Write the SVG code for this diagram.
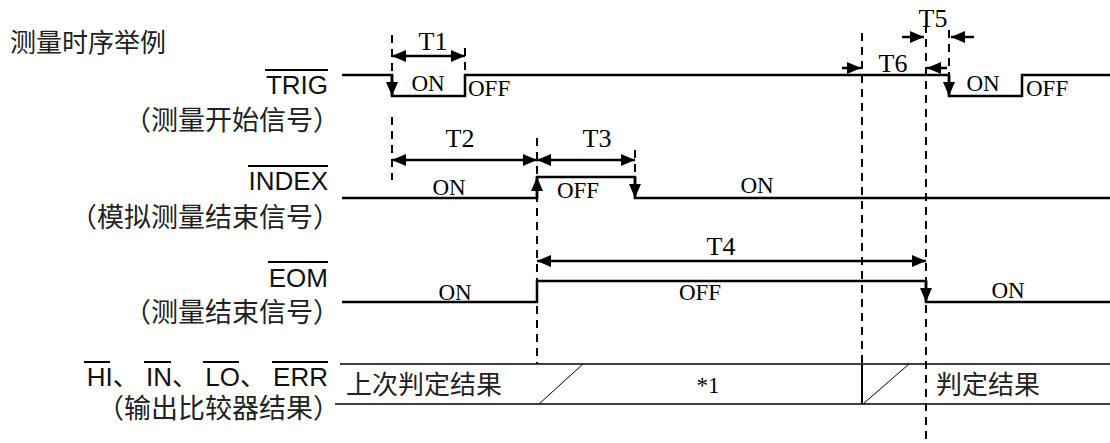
<svg xmlns="http://www.w3.org/2000/svg" width="1110" height="443" viewBox="0 0 1110 443">
<style>
.bg{fill:#fff}
.sig{fill:none;stroke:#000;stroke-width:2.5}
.dim{fill:none;stroke:#000;stroke-width:2.5}
.guide{fill:none;stroke:#000;stroke-width:2;stroke-dasharray:8,6}
.row{fill:none;stroke:#000;stroke-width:1.6}
.slash{fill:none;stroke:#000;stroke-width:1}
.ovl{stroke:#000;stroke-width:2}
.cn{font-family:"Noto Sans CJK SC","Noto Sans",sans-serif;fill:#222}
.en{font-family:"Liberation Sans",Arial,"Noto Sans CJK SC",sans-serif;font-size:26px;fill:#111}
.tm{font-family:"Liberation Serif","Times New Roman",serif;font-size:23px;fill:#000}
.tl{font-family:"Liberation Serif","Times New Roman",serif;font-size:26px;fill:#000}
</style>
<defs>
<marker id="ah" markerUnits="userSpaceOnUse" markerWidth="14" markerHeight="12" viewBox="0 0 14 12" refX="14" refY="6" orient="auto-start-reverse">
<path d="M0,0 L14,6 L0,12 z" fill="#000"/>
</marker>
</defs>
<rect class="bg" x="0" y="0" width="1110" height="443"/>

<g id="labels">
<text class="cn" x="10" y="52" font-size="26">测量时序举例</text>
<text class="en" x="328" y="94" text-anchor="end">TRIG</text>
<line class="ovl" x1="265" y1="70" x2="328" y2="70"/>
<text class="cn" x="340" y="130" font-size="27" text-anchor="end">（测量开始信号）</text>
<text class="en" x="328" y="190" text-anchor="end">INDEX</text>
<line class="ovl" x1="248" y1="166" x2="328" y2="166"/>
<text class="cn" x="340" y="227" font-size="27" text-anchor="end">（模拟测量结束信号）</text>
<text class="en" x="328" y="287" text-anchor="end">EOM</text>
<line class="ovl" x1="268" y1="262" x2="328" y2="262"/>
<text class="cn" x="340" y="322" font-size="27" text-anchor="end">（测量结束信号）</text>
<text class="en" x="328" y="386" text-anchor="end">HI、 IN、 LO、 ERR</text>
<line class="ovl" x1="84" y1="362" x2="110" y2="362"/>
<line class="ovl" x1="144" y1="362" x2="171" y2="362"/>
<line class="ovl" x1="203" y1="362" x2="239" y2="362"/>
<line class="ovl" x1="272" y1="362" x2="328" y2="362"/>
<text class="cn" x="340" y="418" font-size="27" text-anchor="end">（输出比较器结果）</text>
</g>

<g id="guides">
<line class="guide" x1="392" y1="35" x2="392" y2="96"/>
<line class="guide" x1="392" y1="117" x2="392" y2="180"/>
<line class="guide" x1="465" y1="48" x2="465" y2="75"/>
<line class="guide" x1="537" y1="138" x2="537" y2="364"/>
<line class="guide" x1="635" y1="150" x2="635" y2="178"/>
<line class="guide" x1="862" y1="33" x2="862" y2="364"/>
<line class="guide" x1="926" y1="25" x2="926" y2="443"/>
<line class="guide" x1="949" y1="30" x2="949" y2="85"/>
</g>

<g id="trig">
<path class="sig" d="M342,75 H392 V96 H465 V75 H949 V96 H1022 V75 H1110"/>
<line class="sig" x1="392" y1="75" x2="392" y2="96" marker-end="url(#ah)"/>
<line class="sig" x1="949" y1="75" x2="949" y2="96" marker-end="url(#ah)"/>
<text class="tm" x="428" y="91" text-anchor="middle">ON</text>
<text class="tm" x="468" y="96">OFF</text>
<text class="tm" x="983" y="91" text-anchor="middle">ON</text>
<text class="tm" x="1026" y="96">OFF</text>
</g>

<g id="index">
<path class="sig" d="M342,198 H537 V177 H635 V198 H1110"/>
<line class="sig" x1="537" y1="198" x2="537" y2="177" marker-end="url(#ah)"/>
<line class="sig" x1="635" y1="177" x2="635" y2="198" marker-end="url(#ah)"/>
<text class="tm" x="449" y="195" text-anchor="middle">ON</text>
<text class="tm" x="578" y="198" text-anchor="middle">OFF</text>
<text class="tm" x="757" y="193" text-anchor="middle">ON</text>
</g>

<g id="eom">
<path class="sig" d="M342,302 H537 V281 H926 V302 H1110"/>
<line class="sig" x1="926" y1="281" x2="926" y2="302" marker-end="url(#ah)"/>
<text class="tm" x="455" y="300" text-anchor="middle">ON</text>
<text class="tm" x="700" y="300" text-anchor="middle">OFF</text>
<text class="tm" x="1008" y="298" text-anchor="middle">ON</text>
</g>

<g id="result">
<line class="row" x1="340" y1="364" x2="1110" y2="364"/>
<line class="row" x1="335" y1="404" x2="1110" y2="404"/>
<line class="slash" x1="539" y1="404" x2="583" y2="364"/>
<line class="sig" x1="862" y1="364" x2="862" y2="404" style="stroke-width:2"/>
<line class="slash" x1="863" y1="404" x2="909" y2="364"/>
<text class="cn" x="346" y="394" font-size="26">上次判定结果</text>
<text class="tm" x="708" y="393" text-anchor="middle" font-size="19">*1</text>
<text class="cn" x="936" y="394" font-size="26">判定结果</text>
</g>

<g id="connectors">
<line class="dim" x1="392" y1="56" x2="465" y2="56" marker-start="url(#ah)" marker-end="url(#ah)"/>
<text class="tl" x="433" y="50" text-anchor="middle">T1</text>
<line class="dim" x1="392" y1="160" x2="537" y2="160" marker-start="url(#ah)" marker-end="url(#ah)"/>
<text class="tl" x="460" y="147" text-anchor="middle">T2</text>
<line class="dim" x1="537" y1="160" x2="635" y2="160" marker-start="url(#ah)" marker-end="url(#ah)"/>
<text class="tl" x="597" y="147" text-anchor="middle">T3</text>
<line class="dim" x1="537" y1="261" x2="926" y2="261" marker-start="url(#ah)" marker-end="url(#ah)"/>
<text class="tl" x="721" y="255" text-anchor="middle">T4</text>
<line class="dim" x1="902" y1="37" x2="924" y2="37" marker-end="url(#ah)"/>
<line class="dim" x1="974" y1="37" x2="951" y2="37" marker-end="url(#ah)"/>
<text class="tl" x="933" y="27" text-anchor="middle">T5</text>
<line class="dim" x1="842" y1="68" x2="861" y2="68" marker-end="url(#ah)"/>
<line class="dim" x1="947" y1="68" x2="927" y2="68" marker-end="url(#ah)"/>
<text class="tl" x="893" y="72" text-anchor="middle">T6</text>
</g>
</svg>
